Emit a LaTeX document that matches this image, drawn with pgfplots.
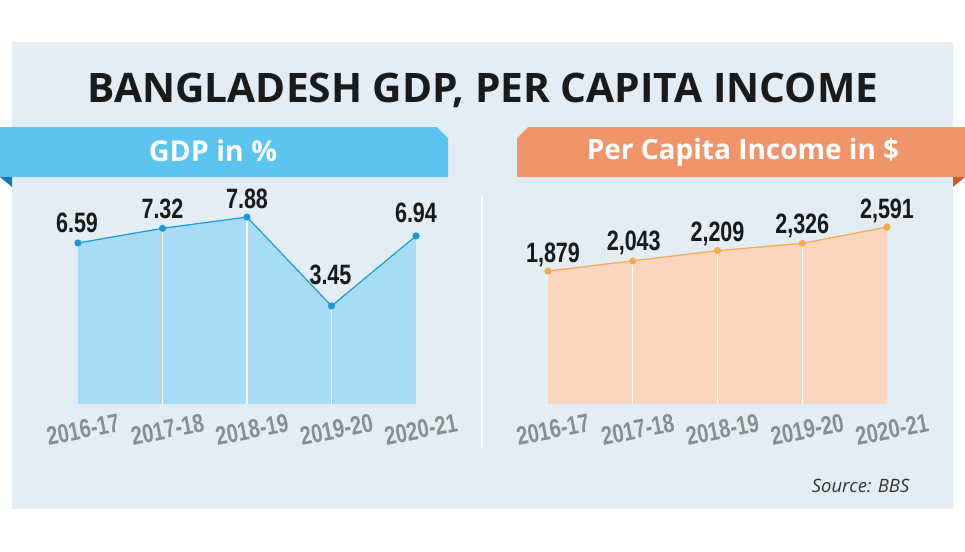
\documentclass[border=0pt]{standalone}
\usepackage{pgfplots}
\pgfplotsset{compat=1.18}
\usepackage{pgfplotstable}
\usepackage{fontspec}
\setmainfont{Open Sans}
\newfontfamily\labfont[FakeStretch=0.77]{Liberation Sans}

\definecolor{panel}{HTML}{E3EDF5}
\definecolor{titlec}{HTML}{1A1A1A}
\definecolor{blueban}{HTML}{5BC4EF}
\definecolor{bluefold}{HTML}{1B75BB}
\definecolor{orgban}{HTML}{F0956B}
\definecolor{orgfold}{HTML}{C8602E}
\definecolor{gdpline}{HTML}{1A9AD7}
\definecolor{gdpfill}{HTML}{A8DCF6}
\definecolor{pciline}{HTML}{F5A84D}
\definecolor{pcifill}{HTML}{FBD6BF}
\definecolor{tickc}{HTML}{8A8C8E}
\definecolor{srcc}{HTML}{333333}

\pgfplotstableread{
x y lab
0 6.59 6.59
1 7.32 7.32
2 7.88 7.88
3 3.45 3.45
4 6.94 6.94
}\gdp

\pgfplotstableread{
x y lab
0 1879 1,879
1 2043 2,043
2 2209 2,209
3 2326 2,326
4 2591 2,591
}\pci

\pgfplotsset{
  panel/.style={
    scale only axis, clip=false,
    xmin=0, xmax=4,
    axis line style={draw=none}, tick style={draw=none},
    ytick=\empty,
    xtick={0,...,4},
    xticklabels={2016-17,2017-18,2018-19,2019-20,2020-21},
    xticklabel style={font=\labfont\bfseries\fontsize{19.5}{20}\selectfont,
      text=tickc, rotate=11, anchor=center, yshift=-19.5pt},
  },
  % value label of one point: index, raise, side shift
  val/.style n args={3}{
    draw=none, mark=none, forget plot,
    restrict x to domain=#1:#1,
    nodes near coords, point meta=explicit symbolic,
    every node near coord/.append style={
      font=\labfont\bfseries\fontsize{21}{21}\selectfont,
      text=black!90, anchor=base, inner sep=0pt,
      yshift=#2, xshift=#3},
  },
}

\begin{document}
\begin{tikzpicture}
\begin{scope}[x=0.75pt,y=-0.75pt]
\useasboundingbox (0,0) rectangle (965,551);
\fill[white] (0,0) rectangle (965,551);
\fill[panel] (12,42) rectangle (953,509);

\node[font=\bfseries\fontsize{30.5}{36}\selectfont, text=titlec, anchor=base]
  at (483,102) {BANGLADESH GDP, PER CAPITA INCOME};

\fill[blueban] (0,127) -- (437,127) -- (448,138) -- (448,177) -- (0,177) -- cycle;
\fill[bluefold] (0,177) -- (12,177) -- (12,187) -- cycle;
\node[text=white, font=\bfseries\fontsize{21.5}{24}\selectfont, anchor=base]
  at (213,161) {GDP in \%};

\fill[orgban] (517,138) -- (528,127) -- (965,127) -- (965,177) -- (517,177) -- cycle;
\fill[orgfold] (953,177) -- (965,177) -- (953,187) -- cycle;
\node[text=white, font=\bfseries\fontsize{21}{24}\selectfont, anchor=base]
  at (743,159) {Per Capita Income in \$};

\draw[white, line width=1.5pt] (482,196) -- (482,448);

\node[anchor=base east, font=\itshape\fontsize{13.8}{16}\selectfont, text=srcc]
  at (914,492) {Source: BBS};

\coordinate (gdpSW) at (78,404);
\coordinate (pciSW) at (548,404);
\end{scope}

% GDP growth
\begin{axis}[panel, at={(gdpSW)}, anchor=south west,
  width=253.5pt, height=142pt, ymin=-1.436, ymax=8]
  \addplot[fill=gdpfill, draw=none] table[x=x, y=y] {\gdp}
    -- (axis cs:4,-1.436) -- (axis cs:0,-1.436) -- cycle;
  \addplot[draw=none, mark=none,
    skip coords between index={0}{1}, skip coords between index={4}{5},
    error bars/.cd, y dir=minus, y explicit, error mark=none,
    error bar style={draw=white, line width=0.8pt}]
    table[x=x, y=y, y error expr=\thisrow{y}+1.436] {\gdp};
  \addplot[line width=0.9pt, color=gdpline, mark=*, mark size=2.2pt,
    mark options={fill=gdpline, draw=none}]
    table[x=x, y=y] {\gdp};
  \addplot[val={0}{7.5pt}{-0.75pt}] table[x=x, y=y, meta=lab] {\gdp};
  \addplot[val={1}{7.5pt}{0pt}] table[x=x, y=y, meta=lab] {\gdp};
  \addplot[val={2}{6.75pt}{0pt}] table[x=x, y=y, meta=lab] {\gdp};
  \addplot[val={3}{15.75pt}{-0.75pt}] table[x=x, y=y, meta=lab] {\gdp};
  \addplot[val={4}{9.75pt}{0pt}] table[x=x, y=y, meta=lab] {\gdp};
\end{axis}

% per capita income
\begin{axis}[panel, at={(pciSW)}, anchor=south west,
  width=254.25pt, height=137.8pt, ymin=-273, ymax=2700]
  \addplot[fill=pcifill, draw=none] table[x=x, y=y] {\pci}
    -- (axis cs:4,-273) -- (axis cs:0,-273) -- cycle;
  \addplot[draw=none, mark=none,
    skip coords between index={0}{1}, skip coords between index={4}{5},
    error bars/.cd, y dir=minus, y explicit, error mark=none,
    error bar style={draw=white, line width=0.8pt}]
    table[x=x, y=y, y error expr=\thisrow{y}+273] {\pci};
  \addplot[line width=0.9pt, color=pciline, mark=*, mark size=2.2pt,
    mark options={fill=pciline, draw=none}]
    table[x=x, y=y] {\pci};
  \addplot[val={0}{6.75pt}{3.75pt}] table[x=x, y=y, meta=lab] {\pci};
  \addplot[val={1}{7.5pt}{0.75pt}] table[x=x, y=y, meta=lab] {\pci};
  \addplot[val={2}{6.75pt}{0pt}] table[x=x, y=y, meta=lab] {\pci};
  \addplot[val={3}{7.5pt}{0pt}] table[x=x, y=y, meta=lab] {\pci};
  \addplot[val={4}{6.75pt}{0pt}] table[x=x, y=y, meta=lab] {\pci};
\end{axis}
\end{tikzpicture}
\end{document}
